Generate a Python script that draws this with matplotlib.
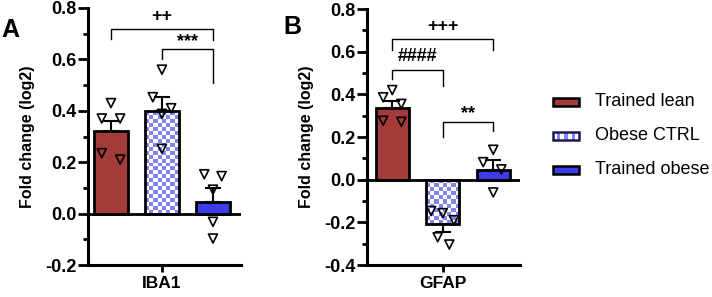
import numpy as np
import matplotlib
matplotlib.use("Agg")
import matplotlib.pyplot as plt
from matplotlib.patches import Rectangle
from matplotlib.colors import ListedColormap
from matplotlib.ticker import MultipleLocator, FormatStrFormatter

plt.rcParams['font.family'] = ['Liberation Sans', 'DejaVu Sans']

groups = ['Trained lean', 'Obese CTRL', 'Trained obese']
colors = ['#A33B3B', '#8484F0', '#3C3CEB']

iba1_label = 'IBA1'
iba1_means = [0.32, 0.40, 0.045]
iba1_sem = [0.04, 0.055, 0.055]
iba1_points = [[0.43, 0.37, 0.37, 0.235, 0.21],
               [0.56, 0.453, 0.41, 0.388, 0.252],
               [0.153, 0.146, 0.093, -0.032, -0.097]]
iba1_jitter = [[0.0, -0.18, 0.18, -0.18, 0.18],
               [0.0, -0.18, 0.18, 0.0, 0.0],
               [-0.17, 0.17, 0.0, 0.0, 0.0]]

gfap_label = 'GFAP'
gfap_means = [0.334, -0.21, 0.046]
gfap_sem = [0.035, 0.036, 0.045]
gfap_points = [[0.42, 0.386, 0.355, 0.276, 0.271],
               [-0.147, -0.157, -0.19, -0.27, -0.304],
               [0.14, 0.082, 0.048, -0.06]]
gfap_jitter = [[0.0, -0.18, 0.18, -0.18, 0.18],
               [-0.23, 0.0, 0.22, -0.1, 0.13],
               [0.0, -0.2, 0.16, 0.0]]

# significance: (x1, x2, y, left drop, right drop, text y, text)
iba1_sig = [(0, 2, 0.72, 0.68, 0.675, 0.765, '++'),
            (1, 2, 0.64, 0.60, 0.51, 0.668, '***')]
gfap_sig = [(0, 2, 0.659, 0.61, 0.61, 0.72, '+++'),
            (0, 1, 0.515, 0.47, 0.44, 0.577, '####'),
            (1, 2, 0.27, 0.20, 0.229, 0.312, '**')]

W, H = 712, 297
fig = plt.figure(figsize=(W / 100, H / 100), dpi=100)

checker_cmap = ListedColormap(['white', colors[1]])
SQ = 4.0  # px


def checker_fill(ax, rect, x0, x1, y0, y1, px_per_x, px_per_y):
    nx = max(1, int(round(abs(x1 - x0) * px_per_x / SQ)))
    ny = max(1, int(round(abs(y1 - y0) * px_per_y / SQ)))
    yy, xx = np.indices((ny, nx))
    arr = ((xx + yy) % 2).astype(float)
    im = ax.imshow(arr, extent=(x0, x1, min(y0, y1), max(y0, y1)), cmap=checker_cmap,
                   interpolation='nearest', aspect='auto', origin='lower', zorder=1,
                   vmin=0, vmax=1)
    im.set_clip_path(rect)


def panel(rect_px, xlim, ylim, means, sem, points, jitter, sig, label, letter, letter_xy):
    l, r, t, b = rect_px
    ax = fig.add_axes([l / W, (H - b) / H, (r - l) / W, (b - t) / H])
    ax.set_xlim(*xlim)
    ax.set_ylim(*ylim)
    px_per_x = (r - l) / (xlim[1] - xlim[0])
    px_per_y = (b - t) / (ylim[1] - ylim[0])
    bw = 0.66
    xs = np.arange(len(means))
    for i, (m, s) in enumerate(zip(means, sem)):
        if i == 1:
            bar = ax.bar(xs[i], m, width=bw, facecolor='none', edgecolor='black',
                         linewidth=2, zorder=3)[0]
            checker_fill(ax, bar, xs[i] - bw / 2, xs[i] + bw / 2, 0, m, px_per_x, px_per_y)
        else:
            ax.bar(xs[i], m, width=bw, color=colors[i], edgecolor='black',
                   linewidth=2, zorder=3)
        sgn = 1 if m >= 0 else -1
        ax.errorbar(xs[i], m, yerr=[[0], [s]] if sgn > 0 else [[s], [0]],
                    fmt='none', ecolor='black', elinewidth=1.5, capsize=5.75,
                    capthick=1.5, zorder=2)
        ax.scatter(xs[i] + np.array(jitter[i]), points[i], marker='v', s=42,
                   facecolors='none', edgecolors='black', linewidths=1.2, zorder=5)
    ax.set_xlim(*xlim)
    ax.set_ylim(*ylim)
    ax.axhline(0, color='black', linewidth=2, zorder=4)
    for (x1, x2, y, d1, d2, ty, txt) in sig:
        ax.plot([x1, x1, x2, x2], [d1, y, y, d2], color='black', linewidth=1, zorder=4,
                clip_on=False)
        ax.text((x1 + x2) / 2, ty, txt, ha='center', va='center', fontsize=13,
                fontweight='bold', clip_on=False)
    for s in ['top', 'right']:
        ax.spines[s].set_visible(False)
    for s in ['left', 'bottom']:
        ax.spines[s].set_linewidth(2.2)
    ax.yaxis.set_major_locator(MultipleLocator(0.2))
    ax.yaxis.set_minor_locator(MultipleLocator(0.1))
    ax.yaxis.set_major_formatter(FormatStrFormatter('%.1f'))
    ax.tick_params(axis='y', which='major', length=7, width=2, labelsize=13, pad=1.5)
    ax.tick_params(axis='y', which='minor', length=3.5, width=2)
    ax.set_xticks([1])
    ax.set_xticklabels([label])
    ax.tick_params(axis='x', length=5, width=2, labelsize=12.5, pad=3)
    for lab in ax.get_yticklabels() + ax.get_xticklabels():
        lab.set_fontweight('bold')
    ax.set_ylabel('Fold change (log2)', fontsize=11.5, fontweight='bold', labelpad=7)
    fig.text(letter_xy[0] / W, 1 - letter_xy[1] / H, letter, fontsize=18,
             fontweight='bold', ha='left', va='center')
    return ax


panel((88, 240.5, 8, 265), (-0.45, 2.54), (-0.2, 0.8), iba1_means, iba1_sem,
      iba1_points, iba1_jitter, iba1_sig, iba1_label, 'A', (1, 30))
panel((367, 520, 9, 265), (-0.5, 2.53), (-0.4, 0.8), gfap_means, gfap_sem,
      gfap_points, gfap_jitter, gfap_sig, gfap_label, 'B', (283, 27))

# legend drawn in pixel coordinates
lax = fig.add_axes([0, 0, 1, 1])
lax.set_xlim(0, W)
lax.set_ylim(H, 0)
lax.axis('off')
row_y = [102, 136, 170]
for i, (g, c) in enumerate(zip(groups, colors)):
    y = row_y[i]
    if i == 1:
        rect = Rectangle((553, y - 4), 26, 8, facecolor='none', edgecolor='#1A1A50',
                         linewidth=1.8, zorder=3)
        lax.add_patch(rect)
        arr = np.array([[0, 1, 0, 1, 0, 1, 0]], dtype=float)
        im = lax.imshow(arr, extent=(553, 579, y + 4, y - 4), cmap=checker_cmap,
                        interpolation='nearest', aspect='auto', zorder=2, vmin=0, vmax=1)
        im.set_clip_path(rect)
    else:
        lax.add_patch(Rectangle((553, y - 4), 26, 8, facecolor=c, edgecolor='black',
                                linewidth=1.8, zorder=3))
    lax.text(595, y, g, fontsize=13, va='center', ha='left')
lax.set_xlim(0, W)
lax.set_ylim(H, 0)

fig.savefig('out.png', dpi=100)
